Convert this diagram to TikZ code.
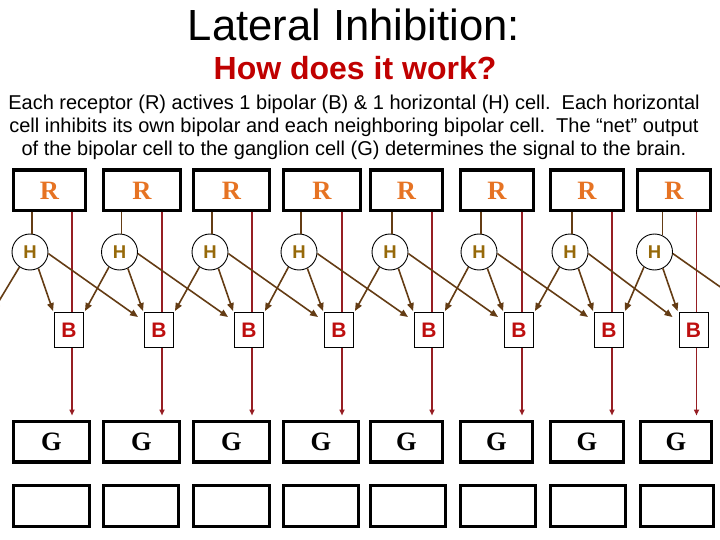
\documentclass[tikz,border=0pt]{standalone}
\usepackage{fontspec}
\setmainfont{Liberation Sans}
\newfontfamily\rgfont{Liberation Serif}
\usetikzlibrary{arrows.meta,calc}
\definecolor{rorange}{RGB}{230,115,35}
\definecolor{holive}{RGB}{150,105,10}
\definecolor{bred}{RGB}{190,15,15}
\definecolor{subred}{RGB}{192,0,0}
\definecolor{hbrown}{RGB}{100,60,20}
\definecolor{rline}{RGB}{150,30,35}
\begin{document}
\begin{tikzpicture}[x=1pt,y=-1pt,
  bigbox/.style={draw, line width=3.3pt, inner sep=0pt, minimum height=40.7pt,
    font=\rgfont\bfseries\fontsize{26.5}{26.5}\selectfont},
  rcell/.style={bigbox, text=rorange},
  gcell/.style={bigbox, text=black},
  hcell/.style={circle, draw, line width=0.9pt, fill=white, minimum size=36pt,
    inner sep=0pt, text=holive, font=\bfseries\fontsize{18.5}{18.5}\selectfont},
  bcell/.style={draw, line width=0.9pt, fill=white, minimum width=29pt,
    minimum height=35pt, inner sep=0pt, text=bred,
    font=\bfseries\fontsize{21}{21}\selectfont},
  hline/.style={hbrown, line width=1.6pt},
  harrow/.style={hline, -{Triangle[length=8pt,width=6.5pt]}},
  rlink/.style={rline, line width=1.5pt},
  rarrow/.style={rlink, -{Triangle[length=6pt,width=5pt]}},
  bodytext/.style={anchor=base, font=\fontsize{20}{24}\selectfont}
]
\useasboundingbox (0,0) rectangle (720,540);
\clip (0,0) rectangle (720,540);

\node[anchor=base, font=\fontsize{43.6}{50}\selectfont] (title) at (354,41) {Lateral Inhibition:};
\node[anchor=base, text=subred, font=\bfseries\fontsize{32}{36}\selectfont] (sub) at (355,80) {How does it work?};
\node[bodytext] (l1) at (354,109.5) {Each receptor (R) actives 1 bipolar (B) \& 1 horizontal (H) cell.\ \ Each horizontal};
\node[bodytext] (l2) at (354,132.5) {cell inhibits its own bipolar and each neighboring bipolar cell.\ \ The “net” output};
\node[bodytext] (l3) at (354,155.5) {of the bipolar cell to the ganglion cell (G) determines the signal to the brain.};

\foreach \i/\rx/\rw/\gx/\gw/\kx/\kw/\hx/\bx in {
  1/49.5/75/51.5/79/51.5/79/30/69,
  2/142/80/141.5/79/141/78/119.5/159,
  3/231.5/79/231.5/79/231.5/79/210/249,
  4/322/80/321/78/321/78/299/339,
  5/406.5/75/406.5/75/408/78/390/429,
  6/497/76/496.5/75/498/78/479/519,
  7/587/76/587/76/588/78/570/609,
  8/674/76/676/74/677/76/654.5/693.5}{
  \node[rcell, minimum width=\rw pt-3.3pt] (R\i) at (\rx,190.5) {R};
  \node[gcell, minimum width=\gw pt-3.3pt] (G\i) at (\gx,441.5) {G};
  \node[bigbox, minimum width=\kw pt-3.3pt] (K\i) at (\kx,506) {};
  \node[hcell] (H\i) at (\hx,252) {H};
  \node[bcell] (B\i) at (\bx,330) {B};
}

\coordinate (offL) at (-7,311);
\coordinate (offR) at (763,317);

\foreach \i/\ha in {1/84,2/84,3/84,4/84,5/84,6/84,7/84,8/64}{
  \draw[hline] (H\i.\ha) -- (H\i.\ha |- R\i.south);
}

\foreach \i in {1,...,8}{
  \draw[rlink] ([xshift=3pt]B\i.north) -- ([xshift=3pt]B\i.north |- R\i.south);
  \draw[rarrow] ([xshift=3pt]B\i.south) -- ([xshift=3pt,yshift=4pt]B\i.south |- G\i.north);
}

\foreach \i [evaluate=\i as \j using int(\i-1), evaluate=\i as \k using int(\i+1)] in {1,...,8}{
  \draw[harrow] (H\i.-63) -- ([xshift=-1pt,yshift=1pt]B\i.north west);
  \ifnum\i>1
    \draw[harrow] (H\i.-125) -- ([xshift=1pt,yshift=1pt]B\j.north east);
  \else
    \draw[harrow] (H\i.-125) -- (offL);
  \fi
  \ifnum\i<8
    \draw[harrow] (H\i.-5) -- ([xshift=-6pt,yshift=-5pt]B\k.north west);
  \else
    \draw[harrow] (H\i.-5) -- (offR);
  \fi
}
\end{tikzpicture}
\end{document}
